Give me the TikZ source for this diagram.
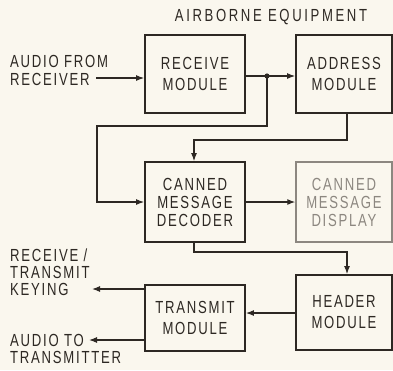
\documentclass[tikz,border=0pt]{standalone}
\usepackage{fontspec}
\setmainfont{Liberation Sans}[FakeStretch=0.75,LetterSpace=10]
\usetikzlibrary{arrows.meta}
\definecolor{ink}{RGB}{45,40,35}
\definecolor{faded}{RGB}{140,135,128}
\definecolor{paper}{RGB}{250,247,238}
\begin{document}
\begin{tikzpicture}[x=1pt,y=-1pt,
  every node/.style={text=ink},
  block/.style={draw=ink,line width=1.9pt,minimum width=100pt,align=center,inner sep=0pt,
    font=\fontsize{17.5}{21}\selectfont},
  blockr/.style={block,minimum width=96pt},
  fadedblock/.style={blockr,draw=faded,text=faded,line width=1.5pt},
  lbl/.style={align=left,anchor=west,inner sep=0pt},
  conn/.style={draw=ink,line width=1.1pt},
  arr/.style={conn,-{Latex[length=8pt,width=6pt]}}]
\fill[paper] (0,0) rectangle (393,370);
\useasboundingbox (0,0) rectangle (393,370);
% blocks
\node[block,minimum height=78pt] (rx) at (195,74) {RECEIVE\\MODULE};
\node[blockr,minimum height=78pt] (addr) at (344,74) {ADDRESS\\MODULE};
\node[block,minimum height=80pt,font=\fontsize{17.5}{18}\selectfont] (dec) at (195,202) {CANNED\\MESSAGE\\DECODER};
\node[fadedblock,minimum height=80pt,font=\fontsize{17.5}{18}\selectfont] (disp) at (344,202) {CANNED\\MESSAGE\\DISPLAY};
\node[block,minimum height=66pt] (tx) at (195,318) {TRANSMIT\\MODULE};
\node[blockr,minimum height=75pt] (hdr) at (344,312.5) {HEADER\\MODULE};
% labels
\node[font=\fontsize{17.5}{18}\selectfont\addfontfeatures{LetterSpace=15},inner sep=0pt] (title) at (271,17) {AIRBORNE EQUIPMENT};
\node[lbl,font=\fontsize{17.5}{18}\selectfont] (audioin) at (10,70) {AUDIO FROM\\RECEIVER};
\node[lbl,font=\fontsize{17.5}{17}\selectfont] (keying) at (10,272) {RECEIVE /\\TRANSMIT\\KEYING};
\node[lbl,font=\fontsize{17.5}{17}\selectfont] (audioout) at (10,348.5) {AUDIO TO\\TRANSMITTER};
% junction and corners
\coordinate (j) at (267,76);
\coordinate (inA) at (96,78);
\coordinate (keyEnd) at (92,289);
\coordinate (audEnd) at (89,340);
\fill[ink] (j) circle (2.6pt);
% connectors
\draw[arr] (inA) -- (rx.west |- inA);
\draw[conn] (rx.east |- j) -- (j);
\draw[arr] (j) -- (addr.west |- j);
\draw[arr] (j) -- (267,126) -- (97,126) -- (97,202) -- (dec.west |- 0,202);
\draw[arr] (addr.south -| 347,0) -- (347,140) -- (194,140) -- (dec.north -| 194,0);
\draw[arr] (dec.east) -- (disp.west);
\draw[arr] (dec.south -| 194,0) -- (194,252) -- (347,252) -- (hdr.north -| 347,0);
\draw[arr] (hdr.west |- 0,313) -- (tx.east |- 0,313);
\draw[arr] (tx.west |- keyEnd) -- (keyEnd);
\draw[arr] (tx.west |- audEnd) -- (audEnd);
\end{tikzpicture}
\end{document}
